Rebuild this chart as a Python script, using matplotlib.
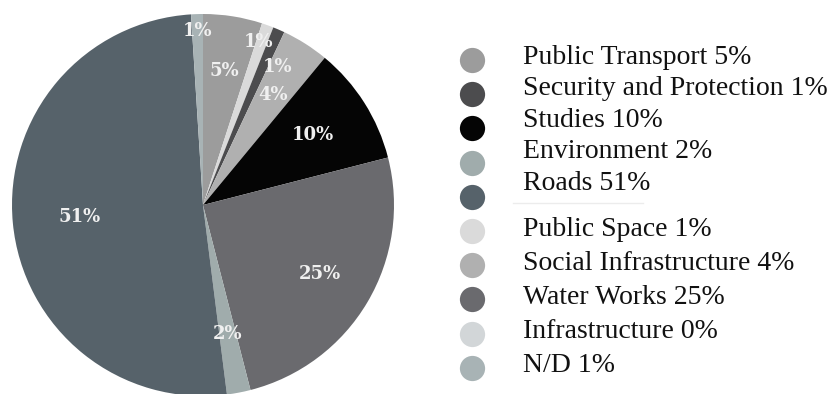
import matplotlib
matplotlib.use("Agg")
import matplotlib.pyplot as plt
import numpy as np

# budget shares by sector, in the order the wedges run clockwise from the top
sectors = ["Public Transport", "Public Space", "Security and Protection",
           "Social Infrastructure", "Studies", "Water Works", "Environment",
           "Infrastructure", "Roads", "N/D"]
shares = [5, 1, 1, 4, 10, 25, 2, 0, 51, 1]
colours = ["#9c9c9c", "#dadada", "#4c4c4e", "#b0b0b0", "#050505",
           "#6a6a6e", "#a0acac", "#d2d6d8", "#56626a", "#a8b3b5"]

# legend lists the sectors in two blocks of five
legend_order = ["Public Transport", "Security and Protection", "Studies",
                "Environment", "Roads", "Public Space", "Social Infrastructure",
                "Water Works", "Infrastructure", "N/D"]

# how far out each percentage sits (fraction of the radius), plus a small
# angular nudge in degrees so the thin wedges' labels don't collide
label_radius = [0.71, 0.90, 0.82, 0.68, 0.68, 0.71, 0.69, 0.0, 0.65, 0.91]
label_nudge = [0, 1, -5, 0, 0, 0, 0, 0, 0, 0]

W, H = 835, 394
fig = plt.figure(figsize=(W / 100, H / 100), dpi=100)
fig.patch.set_facecolor("white")

R = 191
cx, cy = 203, 205
ax = fig.add_axes([(cx - R) / W, (H - cy - R) / H, 2 * R / W, 2 * R / H])
wedges, _ = ax.pie(shares, colors=colours, startangle=90, counterclock=False,
                   radius=1, wedgeprops=dict(linewidth=0))
ax.set_xlim(-1, 1)
ax.set_ylim(-1, 1)
ax.set_aspect("equal")
ax.axis("off")

for w, val, r, dn in zip(wedges, shares, label_radius, label_nudge):
    if val == 0:
        continue
    mid = np.deg2rad((w.theta1 + w.theta2) / 2 + dn)
    ax.text(r * np.cos(mid), r * np.sin(mid), f"{val}%", ha="center", va="center",
            color="#f0f0f0", fontsize=13, fontweight="bold", family="DejaVu Serif")

# legend drawn in pixel space
lax = fig.add_axes([0, 0, 1, 1])
lax.set_xlim(0, W)
lax.set_ylim(H, 0)
lax.axis("off")

colour_of = dict(zip(sectors, colours))
share_of = dict(zip(sectors, shares))
for i, name in enumerate(legend_order):
    dot_y = 60 + i * 34.2
    group, row = divmod(i, 5)
    text_y = [57, 229][group] + row * [31.5, 34][group]
    lax.scatter([472], [dot_y], s=330, color=colour_of[name], linewidths=0)
    lax.text(523, text_y, f"{name} {share_of[name]}%", va="center", ha="left",
             fontsize=20, family="Liberation Serif", color="#111111")
lax.plot([513, 643], [203, 203], color="#ececec", lw=1)

fig.savefig("out.png", dpi=100, facecolor="white")
